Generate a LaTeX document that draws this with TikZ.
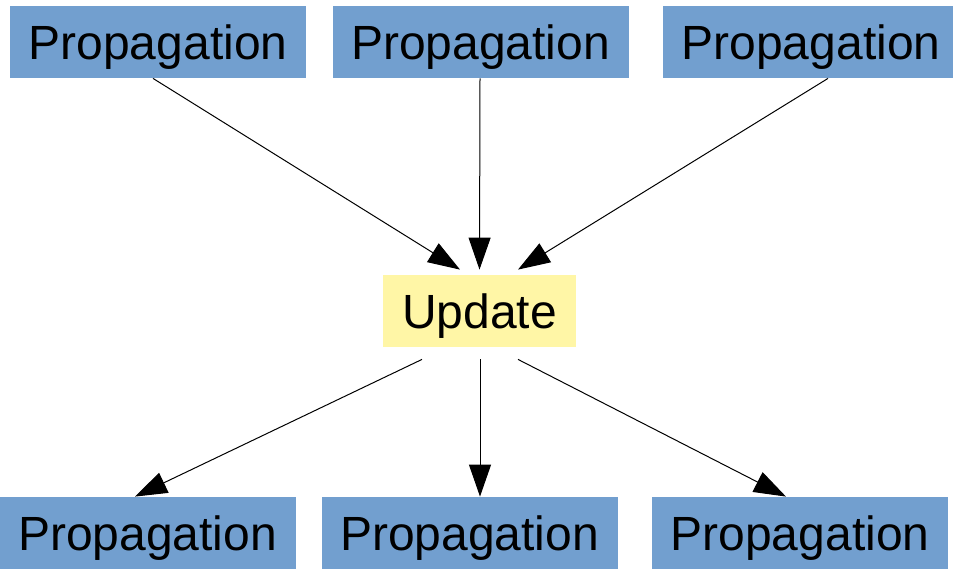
\documentclass[tikz,border=0pt]{standalone}
\usepackage{fontspec}
\setmainfont{Liberation Sans}
\usepackage{xcolor}
\usetikzlibrary{arrows.meta}
\usetikzlibrary{calc}

\definecolor{propblue}{HTML}{729FCF}
\definecolor{updyellow}{HTML}{FFF6A6}

\begin{document}
\begin{tikzpicture}[x=0.5pt,y=-0.5pt,
  prop/.style={fill=propblue, minimum width=148pt, minimum height=36pt,
    inner sep=0pt, text height=17pt, text depth=0pt,
    font=\fontsize{24}{28}\selectfont},
  upd/.style={prop, fill=updyellow, minimum width=96.5pt},
  flow/.style={line width=0.5pt, -{Triangle[length=16pt,width=11pt]}},
]

  % page size of the reference
  \clip (0,0) rectangle (953,568);

  % top row
  \node[prop] (p1) at (158,42)   {Propagation};
  \node[prop] (p2) at (480.5,42) {Propagation};
  \node[prop] (p3) at (811,42)   {Propagation};

  % the update step
  \node[upd] (up) at (479.5,311) {Update};

  % bottom row
  \node[prop] (q1) at (147.5,533) {Propagation};
  \node[prop] (q2) at (469.5,533) {Propagation};
  \node[prop] (q3) at (800,533)   {Propagation};

  % into the update
  \draw[flow] ([xshift=-2.5pt]p1.south) -- ([xshift=-9.75pt,yshift=2.5pt]up.north);
  \draw[flow] ([xshift=-0.25pt]p2.south) -- ([yshift=2.5pt]up.north);
  \draw[flow] ([xshift=8.5pt]p3.south) -- ([xshift=19.25pt,yshift=2.5pt]up.north);

  % out of the update
  \draw[flow] ([xshift=-28.75pt,yshift=-6pt]up.south) -- ([xshift=-6.25pt]q1.north);
  \draw[flow] ([xshift=0.25pt,yshift=-6pt]up.south) -- ([xshift=5.25pt]q2.north);
  \draw[flow] ([xshift=19.25pt,yshift=-6pt]up.south) -- ([xshift=-7pt]q3.north);

\end{tikzpicture}
\end{document}
